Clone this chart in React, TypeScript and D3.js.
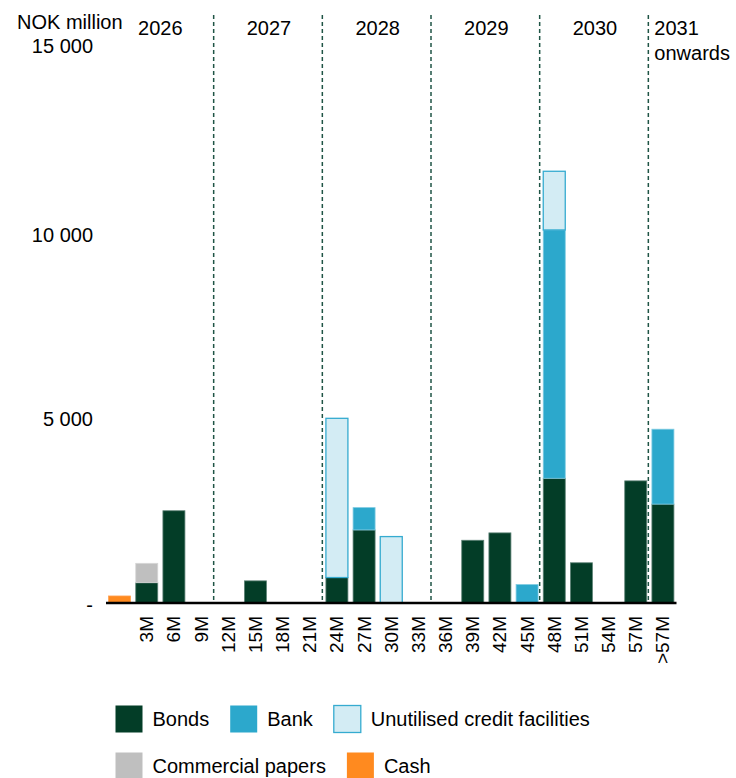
import React from "react";
import * as d3 from "d3";

// Maturity buckets (first bucket is cash, shown without a tick label)
const categories = ["", "3M", "6M", "9M", "12M", "15M", "18M", "21M", "24M", "27M", "30M", "33M", "36M", "39M", "42M", "45M", "48M", "51M", "54M", "57M", ">57M"];

// NOK million per bucket
const bonds = [0, 550, 2500, 0, 0, 600, 0, 0, 690, 1980, 0, 0, 0, 1700, 1900, 0, 3380, 1090, 0, 3310, 2680];
const bank = [0, 0, 0, 0, 0, 0, 0, 0, 0, 605, 0, 0, 0, 0, 0, 500, 6730, 0, 0, 0, 2030];
const unutilised = [0, 0, 0, 0, 0, 0, 0, 0, 4315, 0, 1800, 0, 0, 0, 0, 0, 1590, 0, 0, 0, 0];
const commercialPapers = [0, 525, 0, 0, 0, 0, 0, 0, 0, 0, 0, 0, 0, 0, 0, 0, 0, 0, 0, 0, 0];
const cash = [190, 0, 0, 0, 0, 0, 0, 0, 0, 0, 0, 0, 0, 0, 0, 0, 0, 0, 0, 0, 0];

// Year groups: label and the first bucket of each group
const yearLabels = ["2026", "2027", "2028", "2029", "2030", "2031"];
const yearStarts = ["", "12M", "24M", "36M", "48M", ">57M"];

const yTicks = [0, 5000, 10000, 15000];

const seriesKeys = ["bonds", "bank", "unutilised", "commercialPapers", "cash"];
const seriesNames = ["Bonds", "Bank", "Unutilised credit facilities", "Commercial papers", "Cash"];
const seriesFill: Record<string, string> = {
  bonds: "#033d27",
  bank: "#2ca8cc",
  unutilised: "#d3ecf4",
  commercialPapers: "#bfbfbf",
  cash: "#ff8a1f",
};
const seriesStroke: Record<string, string> = {
  bonds: "#5d8276",
  bank: "#7fcbe2",
  unutilised: "#35abd0",
  commercialPapers: "#d6d6d6",
  cash: "#ffa050",
};

const FONT = "'Liberation Sans', Arial, Helvetica, sans-serif";

function measure(text: string, size: number) {
  const c = document.createElement("canvas").getContext("2d");
  if (!c) return text.length * size * 0.55;
  c.font = `${size}px ${FONT}`;
  return c.measureText(text).width;
}

export default function App() {
  const width = 736;
  const height = 778;
  const baseY = 603;

  const x = d3.scaleBand<string>().domain(categories).range([106, 676.5]).paddingInner(0.19).paddingOuter(0.095);
  const y = d3.scaleLinear().domain([0, 15000]).range([baseY, 49.5]);

  const rows = categories.map((c, i) => ({
    cat: c,
    bonds: bonds[i],
    bank: bank[i],
    unutilised: unutilised[i],
    commercialPapers: commercialPapers[i],
    cash: cash[i],
  }));
  const stacked = d3.stack<any>().keys(seriesKeys)(rows);

  const step = x.step();
  const gapHalf = (step - x.bandwidth()) / 2;
  const boundary = (c: string) => (x(c) as number) - gapHalf;

  // Legend layout
  const legendRows = [[0, 1, 2], [3, 4]];
  const legendY = [719, 766];
  const sw = 27;

  return (
    <svg width={width} height={height} style={{ position: "absolute", left: 0, top: 0, fontFamily: FONT }}>
      <rect width={width} height={height} fill="#ffffff" />

      {/* Y axis title and ticks */}
      <text x={17} y={21.5} fontSize={20} dominantBaseline="central" fill="#000">NOK million</text>
      {yTicks.map((t) => (
        <text key={t} x={93} y={y(t) + (t === 0 ? 1.5 : t === 15000 ? -3.5 : 0.5)} fontSize={20} textAnchor="end" dominantBaseline="central" fill="#000">
          {t === 0 ? "-" : d3.format(",")(t).replace(/,/g, " ")}
        </text>
      ))}

      {/* Year dividers */}
      {yearStarts.slice(1).map((c) => (
        <line key={c} x1={boundary(c) - 1} x2={boundary(c) - 1} y1={15} y2={baseY} stroke="#1f5445" strokeWidth={1.5} strokeDasharray="4,3" />
      ))}

      {/* Year labels */}
      {yearLabels.map((lab, i) => {
        const x0 = boundary(yearStarts[i]);
        const x1 = i + 1 < yearStarts.length ? boundary(yearStarts[i + 1]) : 676.5;
        if (i === yearLabels.length - 1) {
          return (
            <text key={lab} x={x0 + 5} y={27.5} fontSize={20} dominantBaseline="central" fill="#000">
              <tspan x={x0 + 5}>{lab}</tspan>
              <tspan x={x0 + 5} dy={25}>onwards</tspan>
            </text>
          );
        }
        return (
          <text key={lab} x={(x0 + x1) / 2} y={27.5} fontSize={20} textAnchor="middle" dominantBaseline="central" fill="#000">
            {lab}
          </text>
        );
      })}

      {/* Stacked bars */}
      {stacked.map((s) => (
        <g key={s.key}>
          {s.map((d, i) => {
            const h = y(d[0]) - y(d[1]);
            if (h <= 0) return null;
            return (
              <rect
                key={i}
                x={x(categories[i])}
                y={y(d[1])}
                width={x.bandwidth()}
                height={h}
                fill={seriesFill[s.key]}
                stroke={seriesStroke[s.key]}
                strokeWidth={s.key === "unutilised" ? 1.3 : 0.8}
              />
            );
          })}
        </g>
      ))}

      {/* Baseline */}
      <line x1={106} x2={676.5} y1={baseY} y2={baseY} stroke="#000" strokeWidth={2.5} />

      {/* Category labels */}
      {categories.map((c) => (
        <text
          key={c || "cash"}
          transform={`translate(${(x(c) as number) + x.bandwidth() / 2},${baseY + 13}) rotate(-90)`}
          fontSize={19}
          textAnchor="end"
          dominantBaseline="central"
          fill="#000"
        >
          {c}
        </text>
      ))}

      {/* Legend */}
      {legendRows.map((row, r) => {
        let cx = 115.5;
        return (
          <g key={r}>
            {row.map((si) => {
              const key = seriesKeys[si];
              const name = seriesNames[si];
              const gx = cx;
              cx += sw + 10 + measure(name, 20) + 21;
              return (
                <g key={key}>
                  <rect
                    x={gx}
                    y={legendY[r] - sw / 2}
                    width={sw}
                    height={sw}
                    fill={seriesFill[key]}
                    stroke={key === "unutilised" ? seriesStroke[key] : "none"}
                    strokeWidth={1.3}
                  />
                  <text x={gx + sw + 10} y={legendY[r]} fontSize={20} dominantBaseline="central" fill="#000">
                    {name}
                  </text>
                </g>
              );
            })}
          </g>
        );
      })}
    </svg>
  );
}
